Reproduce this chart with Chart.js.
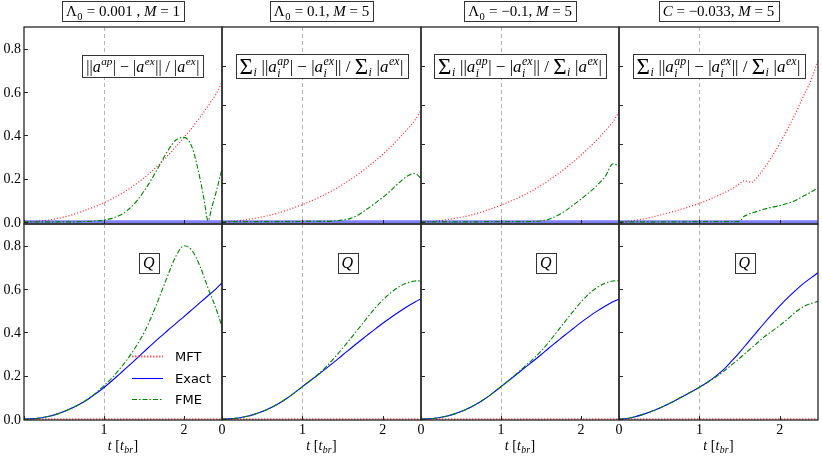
<!DOCTYPE html>
<html>
<head>
<meta charset="utf-8">
<script src="https://cdn.jsdelivr.net/npm/chart.js@4.4.0/dist/chart.umd.min.js"></script>
<style>
  html, body { margin: 0; padding: 0; background: #fff; overflow: hidden; }
  #wrap { position: relative; width: 822px; height: 459px; }
  #wrap canvas { position: absolute; }
</style>
</head>
<body>
<div id="wrap"></div>
<script>
// time grid in units of t_br
const T = [0, 0.1, 0.2, 0.3, 0.4, 0.5, 0.6, 0.7, 0.8, 0.9, 1.0, 1.1, 1.2, 1.3, 1.4, 1.5, 1.6, 1.7, 1.8, 1.9, 2.0, 2.1, 2.2, 2.3, 2.4, 2.475];
// FME error of the first panel dips sharply to zero near t = 2.3
const T1 = [0, 0.1, 0.2, 0.3, 0.4, 0.5, 0.6, 0.7, 0.8, 0.9, 1.0, 1.1, 1.2, 1.3, 1.4, 1.5, 1.6, 1.7, 1.8, 1.9, 2.0, 2.1, 2.2, 2.25, 2.3, 2.35, 2.4, 2.475];
// the C = -0.033 error panel has a small kink near t = 1.6, so it gets a few extra points
const T4 = [0, 0.1, 0.2, 0.3, 0.4, 0.5, 0.6, 0.7, 0.8, 0.9, 1.0, 1.1, 1.2, 1.3, 1.4, 1.5, 1.55, 1.6, 1.65, 1.7, 1.8, 1.9, 2.0, 2.1, 2.2, 2.3, 2.4, 2.475];
const T_ENDS = [0, 2.475];
const ZERO = [0, 0];

// top row: relative error of |a|
const ERR_MFT_1 = [0, 0.001, 0.004, 0.008, 0.014, 0.022, 0.032, 0.045, 0.058, 0.072, 0.088, 0.106, 0.126, 0.149, 0.175, 0.203, 0.235, 0.27, 0.307, 0.347, 0.39, 0.435, 0.483, 0.535, 0.59, 0.645];
const ERR_FME_1 = [0, 0, 0, 0, 0, 0, 0, 0.001, 0.002, 0.004, 0.008, 0.016, 0.03, 0.055, 0.092, 0.142, 0.2, 0.265, 0.33, 0.378, 0.39, 0.345, 0.2, 0.105, 0.005, 0.07, 0.135, 0.245];
const ERR_MFT_2 = [0, 0.002, 0.005, 0.01, 0.016, 0.023, 0.031, 0.041, 0.053, 0.066, 0.08, 0.095, 0.112, 0.13, 0.15, 0.172, 0.196, 0.222, 0.25, 0.28, 0.312, 0.347, 0.385, 0.425, 0.47, 0.515];
const ERR_FME_2 = [0, 0.001, 0.001, 0.001, 0.001, 0.001, 0.001, 0.001, 0.001, 0.001, 0.002, 0.002, 0.002, 0.002, 0.004, 0.008, 0.016, 0.033, 0.058, 0.085, 0.113, 0.145, 0.18, 0.21, 0.224, 0.2];
const ERR_MFT_3 = [0, 0.001, 0.004, 0.009, 0.015, 0.021, 0.029, 0.039, 0.05, 0.063, 0.077, 0.092, 0.108, 0.126, 0.146, 0.168, 0.192, 0.218, 0.246, 0.276, 0.308, 0.342, 0.379, 0.419, 0.463, 0.508];
const ERR_FME_3 = [0, 0, 0, 0, 0, 0, 0, 0, 0.001, 0.001, 0.001, 0.001, 0.001, 0.001, 0.002, 0.004, 0.012, 0.028, 0.05, 0.077, 0.105, 0.135, 0.168, 0.208, 0.268, 0.258];
const ERR_MFT_4 = [0, 0.002, 0.007, 0.013, 0.021, 0.03, 0.04, 0.05, 0.061, 0.073, 0.085, 0.1, 0.116, 0.133, 0.152, 0.176, 0.189, 0.187, 0.182, 0.198, 0.245, 0.3, 0.363, 0.43, 0.505, 0.585, 0.665, 0.746];
const ERR_FME_4 = [0, 0, 0, 0, 0, 0, 0, 0, 0, 0.001, 0.001, 0.001, 0.001, 0.001, 0.001, 0.002, 0.024, 0.033, 0.04, 0.046, 0.058, 0.067, 0.075, 0.086, 0.1, 0.12, 0.14, 0.157];

// bottom row: Q
const Q_EXACT_5 = [0, 0.001, 0.005, 0.012, 0.022, 0.035, 0.051, 0.07, 0.092, 0.118, 0.146, 0.177, 0.21, 0.243, 0.277, 0.311, 0.345, 0.378, 0.41, 0.442, 0.473, 0.505, 0.537, 0.569, 0.601, 0.628];
const Q_FME_5 = [0, 0.001, 0.005, 0.012, 0.022, 0.035, 0.051, 0.07, 0.093, 0.121, 0.155, 0.19, 0.233, 0.28, 0.335, 0.398, 0.478, 0.57, 0.665, 0.752, 0.8, 0.778, 0.705, 0.605, 0.51, 0.427];
const Q_EXACT_6 = [0, 0.001, 0.005, 0.012, 0.022, 0.035, 0.051, 0.071, 0.094, 0.121, 0.15, 0.178, 0.206, 0.235, 0.265, 0.296, 0.326, 0.356, 0.385, 0.414, 0.442, 0.469, 0.494, 0.518, 0.54, 0.555];
const Q_FME_6 = [0, 0.001, 0.005, 0.012, 0.022, 0.035, 0.051, 0.071, 0.094, 0.121, 0.15, 0.178, 0.208, 0.243, 0.284, 0.327, 0.372, 0.418, 0.465, 0.51, 0.55, 0.583, 0.61, 0.628, 0.637, 0.638];
const Q_EXACT_7 = [0, 0.001, 0.005, 0.012, 0.022, 0.035, 0.051, 0.071, 0.094, 0.121, 0.15, 0.179, 0.208, 0.238, 0.267, 0.297, 0.328, 0.358, 0.388, 0.417, 0.446, 0.473, 0.498, 0.521, 0.541, 0.553];
const Q_FME_7 = [0, 0.001, 0.005, 0.012, 0.022, 0.035, 0.051, 0.071, 0.094, 0.121, 0.15, 0.18, 0.211, 0.244, 0.277, 0.313, 0.356, 0.403, 0.45, 0.496, 0.54, 0.578, 0.607, 0.627, 0.637, 0.639];
const Q_EXACT_8 = [0, 0.003, 0.011, 0.022, 0.035, 0.05, 0.067, 0.086, 0.106, 0.126, 0.147, 0.17, 0.197, 0.228, 0.267, 0.308, 0.352, 0.396, 0.44, 0.482, 0.522, 0.56, 0.595, 0.627, 0.655, 0.675];
const Q_FME_8 = [0, 0.003, 0.011, 0.022, 0.035, 0.05, 0.067, 0.086, 0.106, 0.126, 0.147, 0.169, 0.193, 0.22, 0.25, 0.281, 0.313, 0.345, 0.377, 0.405, 0.432, 0.462, 0.495, 0.52, 0.535, 0.543];

const Y_TICKS = [0, 0.2, 0.4, 0.6, 0.8];
const Y_TICK_LABELS = ['0.0', '0.2', '0.4', '0.6', '0.8'];
const Y_TICKS_ERR = [0, 0.18, 0.36, 0.54, 0.72]; // the unlabeled error panels tick differently
const X_TICKS = [0, 1, 2];
const X_TICK_LABELS = ['0', '1', '2'];
const SERIES_NAMES = ['MFT', 'Exact', 'FME'];

const SERIF = '"Liberation Serif", "DejaVu Serif", serif';
const SANS = '"DejaVu Sans", sans-serif';

// math-ish text: [kind, text] with kind r = roman, i = italic, big = sum sign, sub / sup / subsup
const TITLES = [
  [['r', 'Λ'], ['sub', '0'], ['r', ' = 0.001 , '], ['i', 'M'], ['r', ' = 1']],
  [['r', 'Λ'], ['sub', '0'], ['r', ' = 0.1, '], ['i', 'M'], ['r', ' = 5']],
  [['r', 'Λ'], ['sub', '0'], ['r', ' = −0.1, '], ['i', 'M'], ['r', ' = 5']],
  [['i', 'C'], ['r', ' = −0.033, '], ['i', 'M'], ['r', ' = 5']],
];
const ERR_LABEL_SINGLE = [['r', '||'], ['i', 'a'], ['sup', 'ap'], ['r', '| − |'], ['i', 'a'], ['sup', 'ex'], ['r', '|| / |'], ['i', 'a'], ['sup', 'ex'], ['r', '|']];
const ERR_LABEL_SUM = [['big', 'Σ'], ['sub', 'i'], ['r', ' ||'], ['i', 'a'], ['subsup', 'i', 'ap'], ['r', '| − |'], ['i', 'a'], ['subsup', 'i', 'ex'],
  ['r', '|| / '], ['big', 'Σ'], ['sub', 'i'], ['r', ' |'], ['i', 'a'], ['sup', 'ex'], ['r', '|']];
const Q_LABEL = [['i', 'Q']];
const X_LABEL = [['i', 't'], ['r', ' ['], ['i', 't'], ['sub', 'br'], ['r', ']']];

function segFont(kind, text, size) {
  const small = kind === 'sub' || kind === 'sup' || kind === 'subsup';
  const s = kind === 'big' ? size * 1.35 : small ? size * 0.7 : size;
  const italic = kind === 'i' || (small && !/^[0-9]+$/.test(text));
  return (italic ? 'italic ' : '') + s.toFixed(1) + 'px ' + SERIF;
}

function segWidth(ctx, seg, size) {
  if (seg[0] === 'subsup') {
    ctx.font = segFont('sub', seg[1], size);
    const a = ctx.measureText(seg[1]).width;
    ctx.font = segFont('sup', seg[2], size);
    return Math.max(a, ctx.measureText(seg[2]).width) + 1;
  }
  ctx.font = segFont(seg[0], seg[1], size);
  return ctx.measureText(seg[1]).width + (seg[0] === 'sub' || seg[0] === 'sup' ? 1 : 0);
}

function drawMath(ctx, segs, cx, cy, size, boxH) {
  const w = segs.reduce((s, seg) => s + segWidth(ctx, seg, size), 0);
  let x = cx - w / 2;
  if (boxH) {
    const pad = 4;
    ctx.fillStyle = '#fff';
    ctx.strokeStyle = '#333';
    ctx.lineWidth = 1;
    ctx.setLineDash([]);
    const bx = Math.round(x - pad) + 0.5, by = Math.round(cy - boxH / 2) + 0.5;
    ctx.fillRect(bx, by, Math.round(w + 2 * pad), boxH);
    ctx.strokeRect(bx, by, Math.round(w + 2 * pad), boxH);
  }
  ctx.fillStyle = '#000';
  ctx.textAlign = 'left';
  ctx.textBaseline = 'alphabetic';
  const base = cy + size * 0.33;
  segs.forEach(seg => {
    const sw = segWidth(ctx, seg, size);
    const k = seg[0];
    if (k === 'subsup') {
      ctx.font = segFont('sub', seg[1], size);
      ctx.fillText(seg[1], x + 0.5, base + size * 0.28);
      ctx.font = segFont('sup', seg[2], size);
      ctx.fillText(seg[2], x + 0.5, base - size * 0.42);
    } else {
      ctx.font = segFont(k, seg[1], size);
      const dy = k === 'sub' ? size * 0.25 : k === 'sup' ? -size * 0.42 : k === 'big' ? size * 0.1 : 0;
      ctx.fillText(seg[1], x + (k === 'sub' || k === 'sup' ? 0.5 : 0), base + dy);
    }
    x += sw;
  });
}

const panelDecor = {
  id: 'panelDecor',
  beforeDatasetsDraw(chart, args, o) {
    const { ctx, chartArea: a, scales: { x } } = chart;
    ctx.save();
    ctx.strokeStyle = '#b4b4b4';
    ctx.lineWidth = 1;
    ctx.setLineDash([4, 3]);
    const px = Math.round(x.getPixelForValue(1)) + 0.5;
    ctx.beginPath();
    ctx.moveTo(px, a.top);
    ctx.lineTo(px, a.bottom);
    ctx.stroke();
    ctx.restore();
  },
  afterDraw(chart, args, o) {
    const { ctx, chartArea: a, scales: { x, y } } = chart;
    ctx.save();
    ctx.setLineDash([]);
    ctx.strokeStyle = '#262626';
    ctx.lineWidth = 1.3;
    ctx.strokeRect(a.left, a.top, a.width, a.height);

    // inward ticks, left and bottom only
    ctx.lineWidth = 1;
    ctx.beginPath();
    o.yTicks.forEach(v => {
      const py = Math.round(y.getPixelForValue(v)) + 0.5;
      ctx.moveTo(a.left, py);
      ctx.lineTo(a.left + 4, py);
    });
    X_TICKS.forEach(v => {
      const px = Math.round(x.getPixelForValue(v)) + 0.5;
      ctx.moveTo(px, a.bottom);
      ctx.lineTo(px, a.bottom - 4);
    });
    ctx.stroke();

    ctx.fillStyle = '#000';
    ctx.font = '14px ' + SERIF;
    if (o.yLabels) {
      ctx.textAlign = 'right';
      ctx.textBaseline = 'middle';
      Y_TICKS.forEach((v, i) => ctx.fillText(Y_TICK_LABELS[i], a.left - 3, y.getPixelForValue(v) + 1));
    }
    if (o.xLabels) {
      ctx.textAlign = 'center';
      ctx.textBaseline = 'middle';
      X_TICKS.forEach((v, i) => {
        if (o.xLabels[i]) ctx.fillText(X_TICK_LABELS[i], x.getPixelForValue(v), a.bottom + 10);
      });
      drawMath(ctx, X_LABEL, (a.left + a.right) / 2, a.bottom + 25, 14, 0);
    }

    if (o.title) drawMath(ctx, o.title, (a.left + a.right) / 2, a.top - 16, 15, 20);
    drawMath(ctx, o.label, a.left + a.width * o.labelPos[0], a.bottom - a.height * o.labelPos[1], o.labelSize, o.labelBox);

    if (o.legend) {
      const x0 = a.left + 108, x1 = a.left + 139;
      SERIES_NAMES.forEach((name, i) => {
        const ds = chart.data.datasets.find(d => d.label === name);
        const ly = Math.round(a.top + 132 + i * 21.7) + 0.5;
        ctx.strokeStyle = ds.borderColor;
        ctx.lineWidth = ds.borderWidth;
        ctx.setLineDash(ds.borderDash || []);
        ctx.beginPath();
        ctx.moveTo(x0, ly);
        ctx.lineTo(x1, ly);
        ctx.stroke();
        ctx.setLineDash([]);
        ctx.fillStyle = '#000';
        ctx.font = '13px ' + SANS;
        ctx.textAlign = 'left';
        ctx.textBaseline = 'middle';
        ctx.fillText(name, x1 + 12, ly + 1);
      });
    }
    ctx.restore();
  }
};

function series(name, ts, vs, row) {
  const style = {
    MFT: row === 0
      ? { borderColor: '#ff2020', borderWidth: 1.2, borderDash: [1, 2], order: 2 }
      : { borderColor: 'rgba(255,40,40,0.75)', borderWidth: 2, borderDash: [1.5, 1.5], order: 2 },
    Exact: row === 0
      ? { borderColor: 'rgba(40,40,255,0.6)', borderWidth: 3, order: 1 }
      : { borderColor: '#0000ff', borderWidth: 1.1, order: 1 },
    FME: { borderColor: '#008000', borderWidth: 1.1, borderDash: [5, 2, 1.5, 2], order: 0 },
  }[name];
  return Object.assign({
    label: name,
    data: ts.map((t, i) => ({ x: t, y: vs[i] })),
    pointRadius: 0,
    fill: false,
    cubicInterpolationMode: 'monotone',
  }, style);
}

const LEFTS = [24, 222, 421, 619];
const RIGHTS = [222, 421, 619, 818];
const TOPS = [27, 224];
const BOTTOMS = [224, 420];
const Y_RANGES = [[-0.01, 0.9], [-0.004, 0.9]];
const M = 40;

const PANELS = [
  { row: 0, col: 0, s: [['MFT', T, ERR_MFT_1], ['Exact', T_ENDS, ZERO], ['FME', T1, ERR_FME_1]] },
  { row: 0, col: 1, s: [['MFT', T, ERR_MFT_2], ['Exact', T_ENDS, ZERO], ['FME', T, ERR_FME_2]] },
  { row: 0, col: 2, s: [['MFT', T, ERR_MFT_3], ['Exact', T_ENDS, ZERO], ['FME', T, ERR_FME_3]] },
  { row: 0, col: 3, s: [['MFT', T4, ERR_MFT_4], ['Exact', T_ENDS, ZERO], ['FME', T4, ERR_FME_4]] },
  { row: 1, col: 0, s: [['MFT', T_ENDS, ZERO], ['Exact', T, Q_EXACT_5], ['FME', T, Q_FME_5]] },
  { row: 1, col: 1, s: [['MFT', T_ENDS, ZERO], ['Exact', T, Q_EXACT_6], ['FME', T, Q_FME_6]] },
  { row: 1, col: 2, s: [['MFT', T_ENDS, ZERO], ['Exact', T, Q_EXACT_7], ['FME', T, Q_FME_7]] },
  { row: 1, col: 3, s: [['MFT', T_ENDS, ZERO], ['Exact', T, Q_EXACT_8], ['FME', T, Q_FME_8]] },
];

const wrap = document.getElementById('wrap');
PANELS.forEach(p => {
  const w = RIGHTS[p.col] - LEFTS[p.col] + 2 * M;
  const h = BOTTOMS[p.row] - TOPS[p.row] + 2 * M;
  const cv = document.createElement('canvas');
  cv.width = w;
  cv.height = h;
  cv.style.left = (LEFTS[p.col] - M) + 'px';
  cv.style.top = (TOPS[p.row] - M) + 'px';
  cv.style.width = w + 'px';
  cv.style.height = h + 'px';
  wrap.appendChild(cv);

  const top = p.row === 0;
  new Chart(cv, {
    type: 'line',
    data: { datasets: p.s.map(([name, ts, vs]) => series(name, ts, vs, p.row)) },
    options: {
      responsive: false,
      devicePixelRatio: 1,
      animation: false,
      events: [],
      layout: { padding: M },
      scales: {
        x: { type: 'linear', min: 0, max: 2.475, display: false },
        y: { type: 'linear', min: Y_RANGES[p.row][0], max: Y_RANGES[p.row][1], display: false },
      },
      plugins: {
        legend: { display: false },
        tooltip: { enabled: false },
        panelDecor: {
          yTicks: top && p.col > 0 ? Y_TICKS_ERR : Y_TICKS,
          yLabels: p.col === 0,
          xLabels: top ? null : (p.col === 0 ? [false, true, true] : [true, true, true]),
          title: top ? TITLES[p.col] : null,
          label: top ? (p.col === 0 ? ERR_LABEL_SINGLE : ERR_LABEL_SUM) : Q_LABEL,
          labelPos: top ? [p.col === 0 ? 0.6 : 0.5, 0.8] : [0.63, 0.8],
          labelSize: top ? (p.col === 0 ? 16 : 17) : 16,
          labelBox: top ? (p.col === 0 ? 22 : 24) : 20,
          legend: !top && p.col === 0,
        },
      },
    },
    plugins: [panelDecor],
  });
});
</script>
</body>
</html>
